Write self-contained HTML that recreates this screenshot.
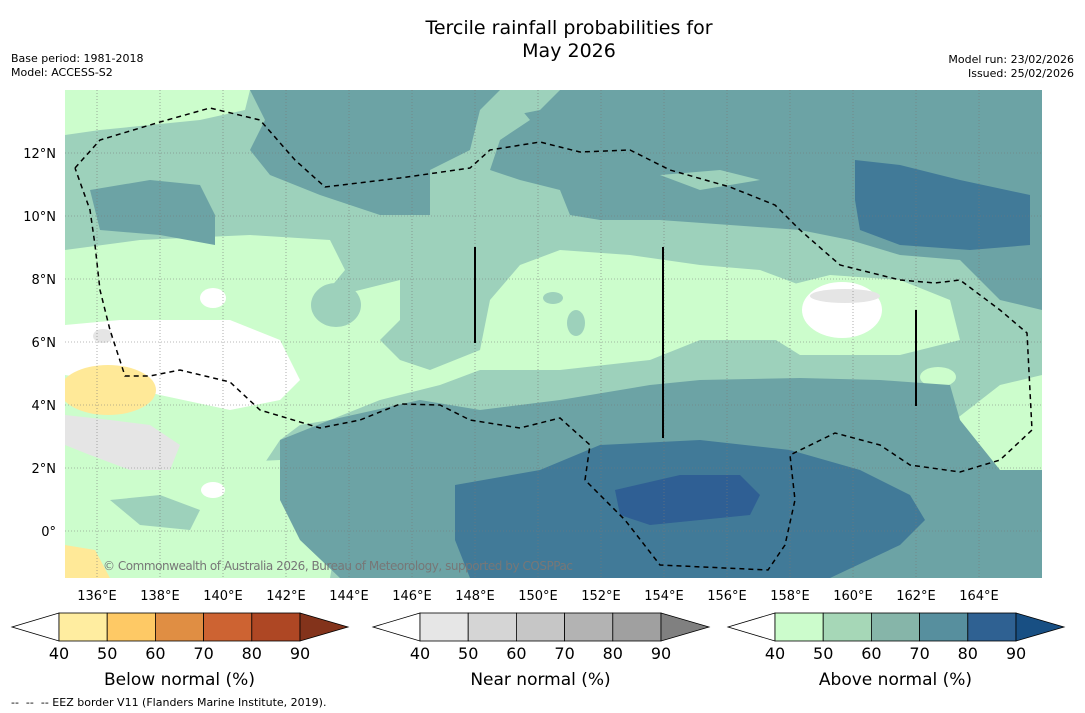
<!DOCTYPE html>
<html><head><meta charset="utf-8"><style>
html,body{margin:0;padding:0;background:#fff;width:1085px;height:713px;overflow:hidden;font-family:"DejaVu Sans","Liberation Sans",sans-serif}
svg{display:block}
</style></head><body>
<svg id="root" width="1085" height="713">
<text x="569" y="34" font-size="19" text-anchor="middle">Tercile rainfall probabilities for</text>
<text x="569" y="57" font-size="19" text-anchor="middle">May 2026</text>
<text x="11" y="62" font-size="11">Base period: 1981-2018</text>
<text x="11" y="76" font-size="11">Model: ACCESS-S2</text>
<text x="1074" y="63" font-size="11" text-anchor="end">Model run: 23/02/2026</text>
<text x="1074" y="77" font-size="11" text-anchor="end">Issued: 25/02/2026</text>
<defs><clipPath id="mc"><rect x="65" y="90" width="977" height="488"/></clipPath></defs>
<g clip-path="url(#mc)">
<rect x="65" y="90" width="977" height="488" fill="#9dd1bb"/>
<g fill="#ccfdcc">
<path d="M65,90 L250,90 L245,110 L200,120 L150,125 L100,130 L65,135 Z"/>
<path d="M65,250 L140,240 L250,235 L330,240 L345,270 L320,300 L360,290 L400,280 L400,320 L380,340 L400,360 L430,370 L480,350 L490,300 L520,265 L560,250 L630,255 L700,265 L760,270 L800,285 L820,330 L780,340 L700,340 L650,360 L560,370 L480,370 L440,385 L380,400 L330,420 L300,425 L280,440 L260,470 L230,480 L160,480 L130,470 L65,470 Z"/>
<path d="M65,470 L280,460 L300,500 L340,520 L330,578 L65,578 Z"/>
<path d="M955,420 L1000,385 L1042,375 L1042,470 L1000,470 L960,440 Z"/>
<path d="M770,290 L830,275 L900,280 L950,300 L960,340 L900,355 L800,355 L760,330 Z"/>
<ellipse cx="938" cy="377" rx="18" ry="10"/>
</g>
<g fill="#9dd1bb"><ellipse cx="553" cy="298" rx="10" ry="6"/><ellipse cx="576" cy="323" rx="9" ry="13"/><ellipse cx="336" cy="305" rx="25" ry="22"/><path d="M110,500 L160,495 L200,510 L190,530 L140,525 Z"/></g>
<g fill="#6ca3a5">
<path d="M250,90 L500,90 L480,110 L470,150 L430,170 L430,215 L380,215 L320,195 L270,175 L250,150 L265,120 Z"/>
<path d="M505,90 L1042,90 L1042,310 L1000,300 L960,260 L900,255 L850,240 L800,230 L730,225 L660,220 L600,220 L570,215 L560,190 L520,180 L490,170 L500,140 L530,120 Z"/>
<path d="M90,190 L150,180 L200,185 L215,215 L215,245 L160,235 L100,230 Z"/>
<path d="M280,440 L330,420 L420,400 L480,410 L560,400 L650,385 L700,380 L800,378 L880,380 L950,385 L960,420 L1000,470 L1042,470 L1042,578 L340,578 L300,540 L280,500 Z"/>
</g>
<g fill="#9dd1bb"><path d="M660,175 L720,170 L760,180 L700,190 Z"/><path d="M505,90 L560,90 L540,110 L515,115 Z"/></g>
<g fill="#417a98">
<path d="M855,160 L900,165 L960,180 L1030,195 L1030,245 L970,250 L900,245 L860,230 L855,200 Z"/>
<path d="M455,485 L540,470 L600,445 L700,440 L790,450 L860,470 L910,495 L925,520 L900,545 L830,578 L470,578 L455,540 Z"/>
</g>
<path d="M615,490 L680,475 L740,475 L760,495 L750,515 L700,520 L650,525 L620,515 Z" fill="#2f5f94"/>
<g fill="#fff">
<path d="M65,325 L120,320 L230,320 L280,340 L300,380 L280,400 L230,410 L160,395 L100,380 L65,375 Z"/>
<ellipse cx="842" cy="310" rx="40" ry="28"/>
<ellipse cx="213" cy="298" rx="13" ry="10"/>
<ellipse cx="213" cy="490" rx="12" ry="8"/>
</g>
<g fill="#e5e5e5">
<path d="M65,415 L110,420 L150,425 L180,445 L170,470 L130,470 L90,455 L65,445 Z"/>
<ellipse cx="103" cy="336" rx="10" ry="7"/>
<ellipse cx="845" cy="296" rx="35" ry="7"/>
</g>
<g fill="#ffe998">
<ellipse cx="108" cy="390" rx="48" ry="25"/>
<path d="M65,545 L95,550 L110,578 L65,578 Z"/>
</g>
<g id="grid" stroke="#777" stroke-width="0.6" stroke-dasharray="1,2" fill="none"></g>
<g stroke="#000" stroke-width="1.5" stroke-dasharray="5,4" fill="none">
<path d="M75,168 L100,140 L160,122 L210,108 L260,120 L295,160 L325,187 L400,178 L470,168 L490,150 L540,142 L580,152 L630,150 L670,170 L730,187 L775,205 L800,230 L840,265 L900,280 L935,283 L960,280 L1000,310 L1027,333 L1032,430 L1000,460 L960,472 L910,465 L880,445 L835,433 L790,455 L795,500 L785,545 L768,570 L660,565 L625,520 L585,480 L590,445 L560,418 L520,428 L470,420 L440,405 L400,404 L360,420 L320,428 L260,410 L230,382 L180,370 L150,376 L125,376 L110,330 L100,290 L95,245 L90,210 L75,168"/>
</g>
<g stroke="#000" stroke-width="2">
<line x1="475" y1="247" x2="475" y2="343"/><line x1="663" y1="247" x2="663" y2="438"/><line x1="916" y1="310" x2="916" y2="406"/>
</g>
<text x="103" y="570" font-size="12" fill="#777" textLength="470">© Commonwealth of Australia 2026, Bureau of Meteorology, supported by COSPPac</text>
</g>
<g id="axes" font-size="13"></g>
<g id="cbars"></g>
<text x="11" y="706" font-size="11" xml:space="preserve">--  --  -- EEZ border V11 (Flanders Marine Institute, 2019).</text>
</svg>
<script>
const lonTicks=[136,138,140,142,144,146,148,150,152,154,156,158,160,162,164];
const latTicks=[12,10,8,6,4,2,0];
const levels=[40,50,60,70,80,90];
const belowColors=["#fff","#ffeda0","#fec965","#e08e43","#cd6332","#ae4724","#83331b"];
const nearColors=["#fff","#e6e6e6","#d5d5d5","#c6c6c6","#b3b3b3","#a0a0a0","#808080"];
const aboveColors=["#fff","#ccfccc","#a6d7b7","#86b5a9","#578f9e","#2f6192","#184f83"];
const cbTitles=["Below normal (%)","Near normal (%)","Above normal (%)"];
const NS="http://www.w3.org/2000/svg";
function xOf(lon){return 65.5+(lon-135)*31.5;}
function yOf(lat){return 531-lat*31.5;}
function mk(tag,attrs,parent){const e=document.createElementNS(NS,tag);for(const k in attrs)e.setAttribute(k,attrs[k]);parent.appendChild(e);return e;}
const grid=document.getElementById('grid'),axes=document.getElementById('axes');
lonTicks.forEach(l=>{
 const ln=mk('line',{x1:xOf(l),x2:xOf(l),y1:90,y2:578},grid);
 
 
 const t=mk('text',{x:xOf(l),y:600,'text-anchor':'middle'},axes);t.textContent=l+'°E';
 
 
});
latTicks.forEach(l=>{
 const ln=mk('line',{x1:65,x2:1042,y1:yOf(l),y2:yOf(l)},grid);
 
 
 const t=mk('text',{x:56,y:yOf(l)+5,'text-anchor':'end'},axes);t.textContent=l===0?'0°':l+'°N';
 
 
});
const cb=document.getElementById('cbars');
[[59,belowColors],[420,nearColors],[775,aboveColors]].forEach((c,i)=>{
 const x0=c[0],cols=c[1],w=48.2,y0=613,h=28,n=levels.length-1;
 const g=mk('g',{},cb);
 
 
 mk('polygon',{points:`${x0},${y0} ${x0-47},${y0+h/2} ${x0},${y0+h}`,fill:cols[0],stroke:'#000','stroke-width':0.8},g);
 for(let k=0;k<n;k++){
  const r=mk('rect',{x:x0+k*w,y:y0,width:w,height:h,fill:cols[k+1],stroke:'#000','stroke-width':0.8},g);
  
  
 }
 const xe=x0+n*w;
 mk('polygon',{points:`${xe},${y0} ${xe+48},${y0+h/2} ${xe},${y0+h}`,fill:cols[6],stroke:'#000','stroke-width':0.8},g);
 levels.forEach((v,k)=>{const t=mk('text',{x:x0+k*w,y:659,'font-size':16,'text-anchor':'middle'},g);t.textContent=v;
  
  });
 const t=mk('text',{x:x0+n*w/2,y:685,'font-size':17,'text-anchor':'middle'},g);t.textContent=cbTitles[i];
 
 
});
</script>
</body></html>
